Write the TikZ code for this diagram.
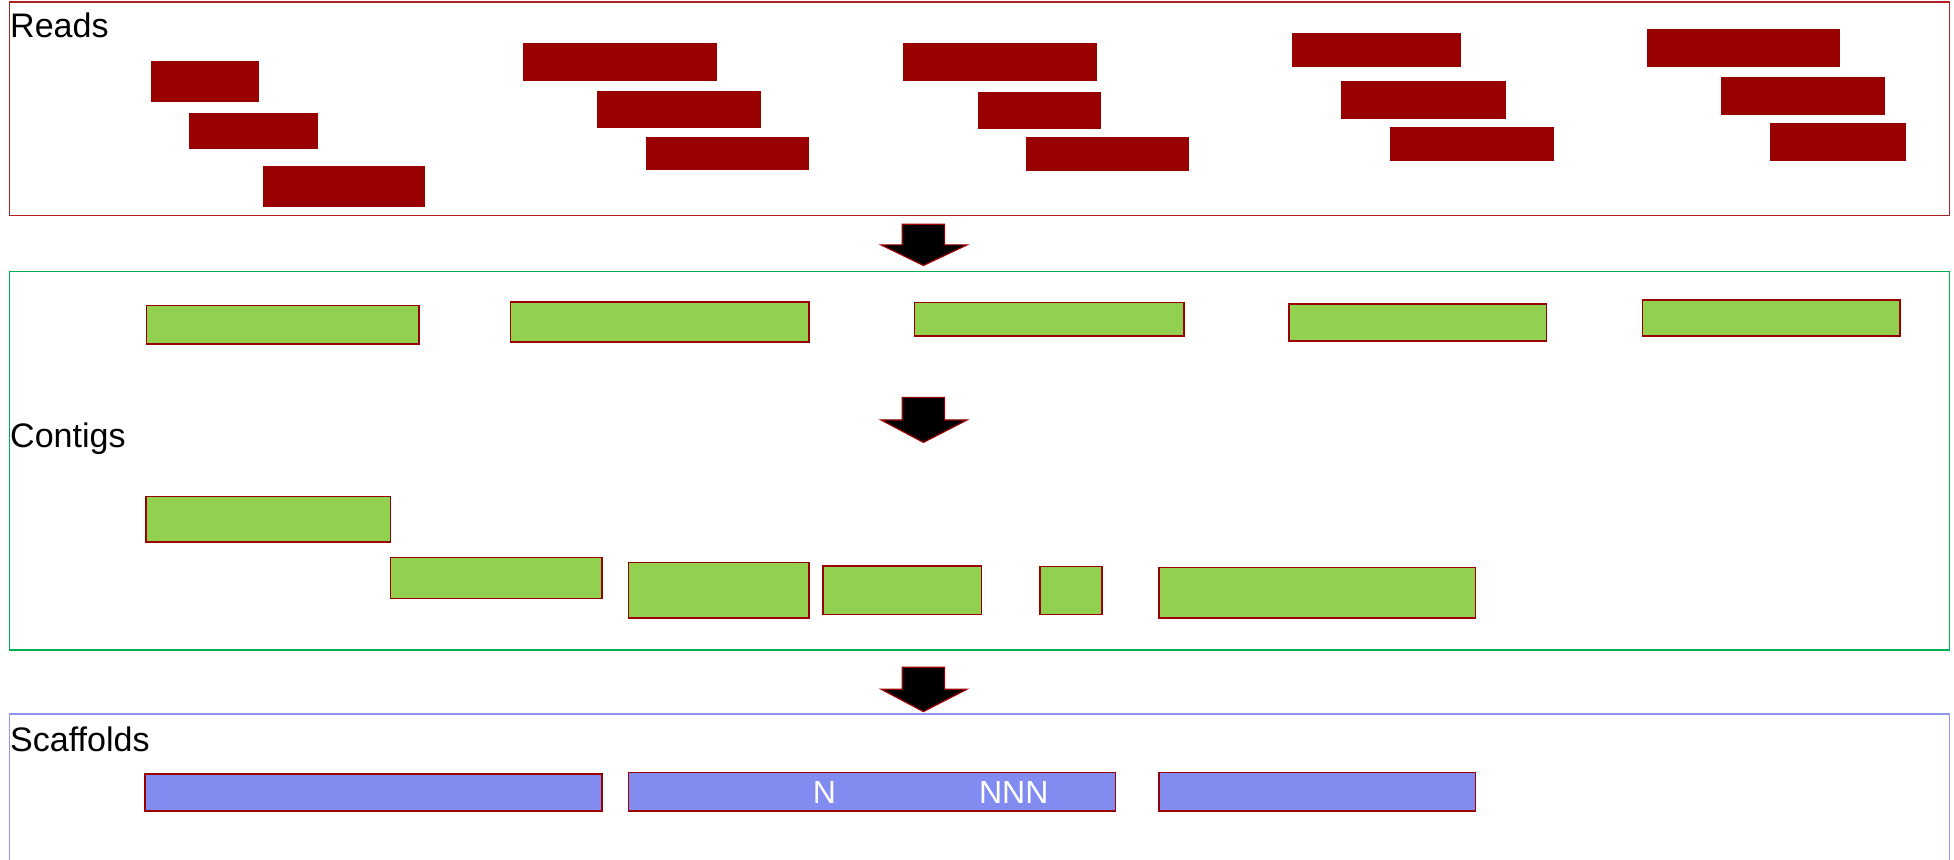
\documentclass[tikz,border=0pt]{standalone}
\usepackage{fontspec}
\setmainfont{Liberation Sans}
\definecolor{readred}{RGB}{153,0,0}
\definecolor{readsframe}{RGB}{176,34,34}
\definecolor{contigframe}{RGB}{0,176,80}
\definecolor{contigfill}{RGB}{146,208,80}
\definecolor{scaffill}{RGB}{129,139,240}
\definecolor{scafframe}{RGB}{140,150,245}
\tikzset{
  readbar/.style={fill=readred},
  contigbar/.style={fill=contigfill, draw=readred, line width=1.3pt},
  scafbar/.style={fill=scaffill, draw=readred, line width=1.3pt},
  stageframe/.style={line width=1.3pt},
  stagelabel/.style={anchor=base west, inner sep=0pt, font=\fontsize{27.3}{31}\selectfont},
  gaplabel/.style={anchor=base, inner sep=0pt, text=white, font=\fontsize{25.7}{30}\selectfont},
  blockarrow/.style={fill=black, draw=readred, line width=1pt, line join=miter},
}
\newcommand{\downarrowblock}[3]{%
  \path[blockarrow] (724,#1) -- (758,#1) -- (758,#2) -- (776,#2) -- (741,#3) -- (707,#2) -- (724,#2) -- cycle;}
\begin{document}
\begin{tikzpicture}[x=1pt,y=-1pt]
\useasboundingbox (0,0) rectangle (1568,690);
\clip (0,0) rectangle (1568,690);
% stage frames
\draw[stageframe, readsframe] (7.5,1.5) rectangle (1564.5,173);
\draw[stageframe, contigframe] (7.5,218) rectangle (1564.5,521.5);
\draw[stageframe, scafframe] (7.5,573) rectangle (1564.5,720);
% labels
\node[stagelabel] (lreads) at (8,29.7) {Reads};
\node[stagelabel] (lcontigs) at (8,359) {Contigs};
\node[stagelabel] (lscaf) at (8,603) {Scaffolds};
% reads
\fill[readbar] (121.4,49) rectangle (208.2,81.9);
\fill[readbar] (151.9,90.7) rectangle (255.1,119.8);
\fill[readbar] (211.4,133) rectangle (340.7,166.1);
\fill[readbar] (419.8,34.2) rectangle (575,64.7);
\fill[readbar] (479.4,72.8) rectangle (611,102.5);
\fill[readbar] (518.4,109.7) rectangle (649.5,136.2);
\fill[readbar] (724.7,34.8) rectangle (880.2,65.3);
\fill[readbar] (784.6,73.8) rectangle (883.4,103.3);
\fill[readbar] (823.5,110.2) rectangle (954.4,137);
\fill[readbar] (1037.1,26.7) rectangle (1172.4,54);
\fill[readbar] (1076.2,65) rectangle (1208.2,95.2);
\fill[readbar] (1115.5,102.2) rectangle (1246.6,129);
\fill[readbar] (1321.7,23.5) rectangle (1476.9,54);
\fill[readbar] (1381.2,61.8) rectangle (1513,92);
\fill[readbar] (1420.4,99) rectangle (1529.7,129);
% arrows
\downarrowblock{180}{196.5}{213}
\downarrowblock{319}{337}{355}
\downarrowblock{535.5}{553}{571}
% contigs row 1
\path[contigbar] (117.5,245.3) rectangle (336,276);
\path[contigbar] (409.5,242.5) rectangle (649,274.5);
\path[contigbar] (733.7,242.6) rectangle (949.9,269.6);
\path[contigbar] (1034.2,244) rectangle (1241,273.4);
\path[contigbar] (1318,240.5) rectangle (1524.5,269.5);
% contigs row 2
\path[contigbar] (117,398.5) rectangle (313.5,434.7);
\path[contigbar] (313.5,447.5) rectangle (482.9,480.4);
\path[contigbar] (504.4,451.5) rectangle (649,495.7);
\path[contigbar] (660.4,454.2) rectangle (787.7,493);
\path[contigbar] (834.4,454.7) rectangle (884.3,493);
\path[contigbar] (929.8,455.5) rectangle (1184,495.7);
% scaffolds
\path[scafbar] (116.5,621) rectangle (482.9,651);
\path[scafbar] (504.4,620) rectangle (895,651);
\path[scafbar] (929.8,620) rectangle (1184,651);
\node[gaplabel] (gap1) at (661.5,645) {N};
\node[gaplabel] (gap2) at (813.5,645) {NNN};
\end{tikzpicture}
\end{document}
